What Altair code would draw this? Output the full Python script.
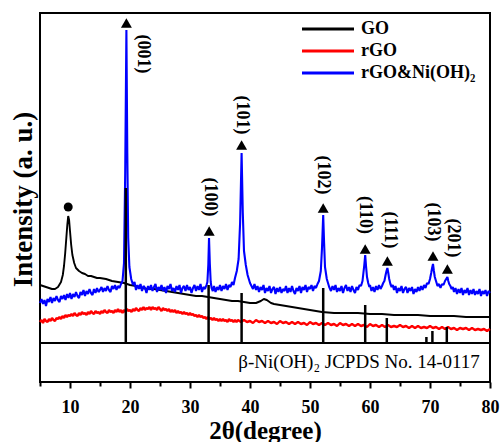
import altair as alt
import pandas as pd

# ---------------- data (intensity in arbitrary units) ----------------
go_x = [5.0, 5.5, 6.0, 6.5, 7.0, 7.5, 8.0, 8.5, 8.8, 9.0, 9.2, 9.4, 9.55, 9.7, 9.85, 10.0, 10.2, 10.4,
        10.7, 11.0, 11.5, 12.0, 12.5, 13.0, 13.5, 14.0, 14.5, 15.0, 16.0, 17.0, 18.0, 19.0, 20.0, 21.0,
        22.0, 23.0, 24.0, 25.0, 26.0, 27.0, 28.0, 29.0, 30.0, 31.0, 32.0, 33.0, 34.0, 35.0, 36.0, 37.0,
        38.0, 39.0, 40.0, 41.0, 41.8, 42.3, 42.8, 43.5, 44.0, 45.0, 46.0, 47.0, 48.0, 49.0, 50.0, 51.0,
        52.0, 54.0, 56.0, 58.0, 60.0, 62.0, 64.0, 66.0, 68.0, 70.0, 72.0, 74.0, 76.0, 78.0, 80.0]
go_y = [58, 57, 56, 55, 54, 54, 56, 61, 68, 77, 90, 106, 118, 127, 123, 112, 98, 88,
        80, 75, 72, 70, 69, 67, 67, 66, 65, 65, 64, 62, 61, 60, 58, 57,
        55, 54, 54, 53, 52, 51, 50, 49, 48, 47, 47, 46, 45, 44, 43, 42,
        42, 41, 40, 40, 42, 44, 43, 40, 39, 38, 37, 36, 35, 34, 33, 32,
        31, 30, 30, 30, 29, 29, 28, 28, 28, 27, 27, 27, 26, 26, 26]

rgo_points = [
    (5.0, 21), (5.25, 23), (5.5, 20), (5.75, 24), (6.0, 22), (6.25, 21), (6.5, 24), (6.75, 22),
    (7.0, 25), (7.25, 23), (7.5, 22), (7.75, 25), (8.0, 24), (8.25, 26), (8.5, 24), (8.75, 27),
    (9.0, 25), (9.25, 28), (9.5, 26), (9.75, 28), (10.0, 27), (10.25, 29), (10.5, 27), (10.75, 30),
    (11.0, 28), (11.25, 27), (11.5, 30), (11.75, 28), (12.0, 31), (12.25, 29), (12.5, 30), (12.75, 28),
    (13.0, 31), (13.25, 29), (13.5, 32), (13.75, 30), (14.0, 29), (14.25, 32), (14.5, 30), (14.75, 31),
    (15.0, 29), (15.25, 32), (15.5, 30), (15.75, 33), (16.0, 31), (16.25, 30), (16.5, 33), (16.75, 31),
    (17.0, 32), (17.25, 30), (17.5, 33), (17.75, 31), (18.0, 34), (18.25, 31), (18.5, 33), (18.75, 30),
    (19.0, 33), (19.25, 31), (19.5, 34), (19.75, 32), (20.0, 33), (20.25, 31), (20.5, 34), (20.75, 32),
    (21.0, 35), (21.25, 33), (21.5, 32), (21.75, 35), (22.0, 33), (22.25, 36), (22.5, 33), (22.75, 35),
    (23.0, 34), (23.25, 36), (23.5, 33), (23.75, 36), (24.0, 34), (24.25, 35), (24.5, 33), (24.75, 36),
    (25.0, 34), (25.25, 32), (25.5, 35), (25.75, 33), (26.0, 34), (26.25, 32), (26.5, 34), (26.75, 31),
    (27.0, 33), (27.25, 31), (27.5, 33), (27.75, 30), (28.0, 32), (28.25, 30), (28.5, 31), (28.75, 29),
    (29.0, 31), (29.25, 29), (29.5, 30), (29.75, 28), (30.0, 30), (30.25, 28), (30.5, 29), (30.75, 27),
    (31.0, 28), (31.25, 26), (31.5, 28), (31.75, 26), (32.0, 27), (32.25, 25), (32.5, 26), (32.75, 24),
    (33.0, 26), (33.25, 24), (33.5, 25), (33.75, 23), (34.0, 25), (34.25, 23), (34.5, 24), (34.75, 22),
    (35.0, 24), (35.25, 22), (35.5, 24), (35.75, 22), (36.0, 23), (36.25, 21), (36.5, 24), (36.75, 22),
    (37.0, 23), (37.25, 21), (37.5, 23), (37.75, 21), (38.0, 23), (38.5, 21), (39.0, 23), (39.5, 21),
    (40.0, 22), (40.5, 20), (41.0, 23), (41.5, 21), (42.0, 22), (42.5, 20), (43.0, 22), (43.5, 20),
    (44.0, 21), (44.5, 19), (45.0, 22), (45.5, 20), (46.0, 21), (46.5, 19), (47.0, 21), (47.5, 19),
    (48.0, 21), (48.5, 19), (49.0, 20), (49.5, 18), (50.0, 21), (50.5, 19), (51.0, 20), (51.5, 18),
    (52.0, 20), (52.5, 18), (53.0, 20), (53.5, 18), (54.0, 19), (54.5, 17), (55.0, 20), (55.5, 18),
    (56.0, 19), (56.5, 17), (57.0, 19), (57.5, 17), (58.0, 19), (58.5, 17), (59.0, 18), (59.5, 16),
    (60.0, 19), (60.5, 17), (61.0, 18), (61.5, 16), (62.0, 18), (62.5, 16), (63.0, 18), (63.5, 16),
    (64.0, 17), (64.5, 16), (65.0, 18), (65.5, 16), (66.0, 17), (66.5, 15), (67.0, 17), (67.5, 15),
    (68.0, 17), (68.5, 15), (69.0, 16), (69.5, 15), (70.0, 17), (70.5, 15), (71.0, 16), (71.5, 14),
    (72.0, 16), (72.5, 14), (73.0, 16), (73.5, 14), (74.0, 15), (74.5, 13), (75.0, 15), (75.5, 14),
    (76.0, 15), (76.5, 13), (77.0, 15), (77.5, 13), (78.0, 14), (78.5, 13), (79.0, 14), (79.5, 12),
    (80.0, 14),
]

ni_points = [
    (5.0, 40), (5.25, 44), (5.5, 39), (5.75, 43), (6.0, 37), (6.25, 44), (6.5, 41), (6.75, 46),
    (7.0, 40), (7.25, 45), (7.5, 42), (7.75, 47), (8.0, 43), (8.25, 41), (8.5, 47), (8.75, 44),
    (9.0, 48), (9.25, 43), (9.5, 49), (9.75, 45), (10.0, 50), (10.25, 44), (10.5, 49), (10.75, 46),
    (11.0, 51), (11.25, 47), (11.5, 45), (11.75, 51), (12.0, 48), (12.25, 53), (12.5, 47), (12.75, 52),
    (13.0, 49), (13.25, 54), (13.5, 50), (13.75, 48), (14.0, 54), (14.25, 50), (14.5, 55), (14.75, 51),
    (15.0, 53), (15.25, 56), (15.5, 51), (15.75, 55), (16.0, 52), (16.25, 57), (16.5, 53), (16.75, 51),
    (17.0, 57), (17.25, 54), (17.5, 58), (17.75, 53), (18.0, 57), (18.25, 55), (18.5, 59), (18.75, 62),
    (19.0, 80), (19.2, 170), (19.4, 313), (19.55, 190), (19.7, 105), (19.9, 76), (20.2, 64), (20.5, 58),
    (20.75, 61), (21.0, 53), (21.25, 58), (21.5, 54), (21.75, 59), (22.0, 52), (22.25, 57), (22.5, 55),
    (22.75, 50), (23.0, 57), (23.25, 53), (23.5, 58), (23.75, 52), (24.0, 56), (24.25, 59), (24.5, 51),
    (24.75, 56), (25.0, 53), (25.25, 58), (25.5, 52), (25.75, 56), (26.0, 50), (26.25, 57), (26.5, 54),
    (26.75, 59), (27.0, 52), (27.25, 55), (27.5, 51), (27.75, 57), (28.0, 53), (28.25, 58), (28.5, 50),
    (28.75, 55), (29.0, 57), (29.25, 52), (29.5, 58), (29.75, 53), (30.0, 56), (30.25, 50), (30.5, 55),
    (30.75, 58), (31.0, 52), (31.25, 57), (31.5, 53), (31.75, 59), (32.0, 51), (32.25, 56), (32.5, 54),
    (32.75, 58), (32.9, 61), (33.05, 78), (33.17, 105), (33.3, 80), (33.45, 61), (33.6, 55), (33.8, 52),
    (34.0, 57), (34.25, 51), (34.5, 56), (34.75, 53), (35.0, 58), (35.25, 52), (35.5, 57), (35.75, 54),
    (36.0, 59), (36.25, 53), (36.5, 58), (36.75, 56), (37.0, 61), (37.25, 58), (37.5, 65), (37.8, 72),
    (38.1, 84), (38.35, 120), (38.6, 190), (38.8, 130), (39.0, 92), (39.3, 78), (39.6, 68), (39.8, 64),
    (40.0, 60), (40.25, 57), (40.5, 54), (40.75, 59), (41.0, 53), (41.25, 57), (41.5, 51), (41.75, 56),
    (42.0, 53), (42.25, 58), (42.5, 50), (42.75, 55), (43.0, 52), (43.25, 57), (43.5, 50), (43.75, 54),
    (44.0, 56), (44.25, 49), (44.5, 55), (44.75, 51), (45.0, 56), (45.25, 50), (45.5, 54), (45.75, 52),
    (46.0, 57), (46.25, 50), (46.5, 55), (46.75, 51), (47.0, 57), (47.25, 52), (47.5, 49), (47.75, 55),
    (48.0, 52), (48.25, 57), (48.5, 50), (48.75, 56), (49.0, 53), (49.25, 58), (49.5, 51), (49.75, 56),
    (50.0, 54), (50.25, 58), (50.5, 52), (50.75, 57), (51.0, 55), (51.25, 59), (51.5, 62), (51.8, 72),
    (52.0, 95), (52.2, 128), (52.35, 100), (52.5, 76), (52.8, 64), (53.0, 60), (53.2, 56), (53.5, 52),
    (53.75, 57), (54.0, 53), (54.25, 58), (54.5, 51), (54.75, 55), (55.0, 52), (55.25, 57), (55.5, 50),
    (55.75, 55), (56.0, 58), (56.25, 52), (56.5, 56), (56.75, 51), (57.0, 57), (57.25, 53), (57.5, 50),
    (57.75, 56), (58.0, 53), (58.25, 58), (58.5, 57), (58.75, 62), (58.9, 70), (59.05, 78), (59.2, 88),
    (59.35, 76), (59.5, 66), (59.7, 60), (59.9, 56), (60.0, 58), (60.25, 52), (60.5, 56), (60.75, 51),
    (61.0, 57), (61.25, 53), (61.5, 58), (61.75, 54), (62.0, 57), (62.2, 60), (62.4, 62), (62.6, 68),
    (62.75, 72), (62.9, 75), (63.05, 70), (63.2, 64), (63.4, 59), (63.6, 56), (63.8, 58), (64.0, 53),
    (64.25, 57), (64.5, 50), (64.75, 55), (65.0, 52), (65.25, 57), (65.5, 50), (65.75, 54), (66.0, 56),
    (66.25, 50), (66.5, 55), (66.75, 52), (67.0, 56), (67.25, 49), (67.5, 54), (67.75, 51), (68.0, 56),
    (68.25, 52), (68.5, 57), (68.75, 53), (69.0, 58), (69.25, 55), (69.5, 60), (69.75, 59), (70.0, 64),
    (70.2, 70), (70.35, 75), (70.5, 79), (70.65, 72), (70.8, 66), (71.0, 62), (71.25, 57), (71.5, 59),
    (71.75, 55), (72.0, 59), (72.25, 58), (72.5, 62), (72.7, 64), (72.9, 66), (73.05, 62), (73.2, 59),
    (73.4, 57), (73.6, 54), (73.8, 56), (74.0, 51), (74.25, 55), (74.5, 49), (74.75, 54), (75.0, 50),
    (75.25, 55), (75.5, 48), (75.75, 53), (76.0, 50), (76.25, 55), (76.5, 48), (76.75, 53), (77.0, 49),
    (77.25, 54), (77.5, 48), (77.75, 52), (78.0, 49), (78.25, 54), (78.5, 47), (78.75, 52), (79.0, 49),
    (79.25, 53), (79.5, 47), (79.75, 52), (80.0, 50),
]

series_names = ["GO", "rGO", "rGO&Ni(OH)₂"]
series_colors = ["#000000", "#ff0000", "#0000ff"]

# JCPDS 14-0117 reference sticks
stick_x = [19.3, 33.1, 38.6, 52.2, 59.2, 62.8, 69.4, 70.4, 72.8]
stick_h = [155, 58, 50, 55, 38, 25, 6, 12, 16]

# peak markers and Miller-index labels
peak_labels = ["(001)", "(100)", "(101)", "(102)", "(110)", "(111)", "(103)", "(201)"]
tri_x = [19.4, 33.2, 38.6, 52.2, 59.2, 62.9, 70.5, 72.9]
tri_y = [320, 112, 198, 135, 94, 82, 87, 74]
label_x = [22.1, 33.3, 38.7, 52.2, 59.2, 63.3, 70.5, 73.8]
label_y = [289, 146, 228, 168, 128, 113, 121, 105]
go_peak_x = [9.7]
go_peak_y = [136]

ref_text = "β-Ni(OH)₂ JCPDS No. 14-0117"
ref_text_x = 78.3
ref_text_y = -19

x_ticks = [5, 10, 15, 20, 25, 30, 35, 40, 45, 50, 55, 60, 65, 70, 75, 80]
x_domain = [5, 80]
y_domain = [-39, 330]

FONT = "Liberation Serif"

# ---------------- chart ----------------
def xenc(field):
    return alt.X(
        f"{field}:Q",
        scale=alt.Scale(domain=x_domain, nice=False, zero=False),
        axis=alt.Axis(
            title="2θ(degree)", values=x_ticks,
            labelExpr="datum.value % 10 === 0 ? datum.label : ''",
            tickSize={"condition": {"test": "datum.value % 10 === 0", "value": 6}, "value": 4},
            tickWidth=2, tickColor="black", domain=False, grid=False,
            labelFont=FONT, labelFontSize=18, labelFontWeight="bold", labelColor="black",
            labelPadding=10, labelFlush=False, labelOverlap=False,
            titleFont=FONT, titleFontSize=25, titleFontWeight="bold", titleColor="black",
            titleY=48, titleBaseline="middle",
        ),
    )


def yenc(field):
    return alt.Y(
        f"{field}:Q",
        scale=alt.Scale(domain=y_domain, nice=False, zero=False),
        axis=alt.Axis(
            title="Intensity (a. u.)", labels=False, ticks=False, domain=False, grid=False,
            titleFont=FONT, titleFontSize=27, titleFontWeight="bold", titleColor="black",
            titleX=-17, titleY=186, titleBaseline="middle", titleAngle=270,
        ),
    )


color_scale = alt.Scale(domain=series_names, range=series_colors)
legend = alt.Legend(
    title=None, orient="none", legendX=279, legendY=7, padding=0,
    symbolType="M-5.2,0L5.2,0", symbolSize=100, symbolStrokeWidth=3,
    labelFont=FONT, labelFontSize=18, labelFontWeight="bold", labelColor="black",
    labelOffset=24, rowPadding=4,
)


def curve(xs, ys, name, width):
    df = pd.DataFrame({"x": xs, "y": ys, "series": name})
    return alt.Chart(df).mark_line(strokeWidth=width, strokeJoin="bevel").encode(
        x=xenc("x"), y=yenc("y"),
        color=alt.Color("series:N", scale=color_scale, legend=legend),
        order="x:Q",
    )


rgo_x = [p[0] for p in rgo_points]
rgo_y = [p[1] for p in rgo_points]
ni_x = [p[0] for p in ni_points]
ni_y = [p[1] for p in ni_points]

go_line = curve(go_x, go_y, series_names[0], 1.9)
rgo_line = curve(rgo_x, rgo_y, series_names[1], 2.4)
ni_line = curve(ni_x, ni_y, series_names[2], 2.1)

stick_df = pd.DataFrame({"x": stick_x, "base": [0] * len(stick_x), "h": stick_h})
sticks = alt.Chart(stick_df).mark_rule(color="black", strokeWidth=2.5).encode(
    x=xenc("x"), y=yenc("base"), y2="h:Q"
)

divider = alt.Chart(pd.DataFrame({"y0": [0]})).mark_rule(color="black", strokeWidth=2).encode(
    y=yenc("y0")
)

tri_df = pd.DataFrame({"x": tri_x, "y": tri_y})
triangles = alt.Chart(tri_df).mark_point(
    shape="triangle-up", filled=True, color="black", size=120, opacity=1
).encode(x=xenc("x"), y=yenc("y"))

circ_df = pd.DataFrame({"x": go_peak_x, "y": go_peak_y})
circle = alt.Chart(circ_df).mark_point(
    shape="circle", filled=True, color="black", size=80, opacity=1
).encode(x=xenc("x"), y=yenc("y"))

lab_df = pd.DataFrame({"x": label_x, "y": label_y, "t": peak_labels})
labels = alt.Chart(lab_df).mark_text(
    angle=90, align="center", baseline="middle", font=FONT, fontSize=18,
    fontWeight="bold", color="black"
).encode(x=xenc("x"), y=yenc("y"), text="t:N")

ref_df = pd.DataFrame({"x": [ref_text_x], "y": [ref_text_y], "t": [ref_text]})
ref_label = alt.Chart(ref_df).mark_text(
    align="right", baseline="middle", font=FONT, fontSize=19, color="black"
).encode(x=xenc("x"), y=yenc("y"), text="t:N")

chart = alt.layer(
    go_line, rgo_line, ni_line, sticks, divider, triangles, circle, labels, ref_label
).properties(
    width=450, height=369,
    padding={"left": 40, "top": 13, "right": 11, "bottom": 60},
    autosize=alt.AutoSizeParams(type="none"),
    background="white",
).configure_view(stroke="black", strokeWidth=2)

chart.save("out.html", embed_options={"renderer": "svg", "actions": False})
